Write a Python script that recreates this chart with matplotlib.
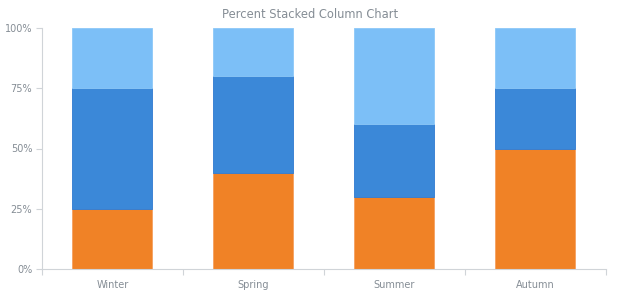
import matplotlib
matplotlib.use("Agg")
import matplotlib.pyplot as plt
import numpy as np

categories = ["Winter", "Spring", "Summer", "Autumn"]
bottom_vals = [25, 40, 30, 50]
middle_vals = [50, 40, 30, 25]
top_vals = [25, 20, 40, 25]
y_ticks = [0, 25, 50, 75, 100]
y_labels = ["0%", "25%", "50%", "75%", "100%"]

text_color = "#858d95"
axis_color = "#d0d4d8"

fig = plt.figure(figsize=(6.2, 3.0), dpi=100)
ax = fig.add_axes([0.0677, 0.1033, 0.9096, 0.8034])

x = np.arange(len(categories))
w = 0.567
ax.bar(x, bottom_vals, w, color="#f08226", edgecolor="#f5a060", linewidth=0.6)
ax.bar(x, middle_vals, w, bottom=bottom_vals, color="#3b88d8", edgecolor="#2f7ad0", linewidth=0.6)
base2 = np.array(bottom_vals) + np.array(middle_vals)
ax.bar(x, top_vals, w, bottom=base2, color="#7cbff7", edgecolor="#8cc8f8", linewidth=0.6)

ax.set_xlim(-0.5, len(categories) - 0.5)
ax.set_ylim(0, 100)
ax.set_yticks(y_ticks)
ax.set_yticklabels(y_labels)
ax.set_xticks(x)
ax.set_xticklabels(categories)
ax.set_xticks(np.arange(-0.5, len(categories)), minor=True)
ax.tick_params(axis="x", which="major", length=0, pad=8, labelsize=7, labelcolor=text_color)
ax.tick_params(axis="x", which="minor", length=4, color=axis_color, width=0.8)
ax.tick_params(axis="y", length=4, color=axis_color, width=0.8, labelsize=7, labelcolor=text_color, pad=3)

for s in ["top", "right"]:
    ax.spines[s].set_visible(False)
for s in ["left", "bottom"]:
    ax.spines[s].set_color(axis_color)
    ax.spines[s].set_linewidth(0.8)

fig.suptitle("Percent Stacked Column Chart", y=0.975, fontsize=8.3, color=text_color)

fig.savefig("out.png", dpi=100)
